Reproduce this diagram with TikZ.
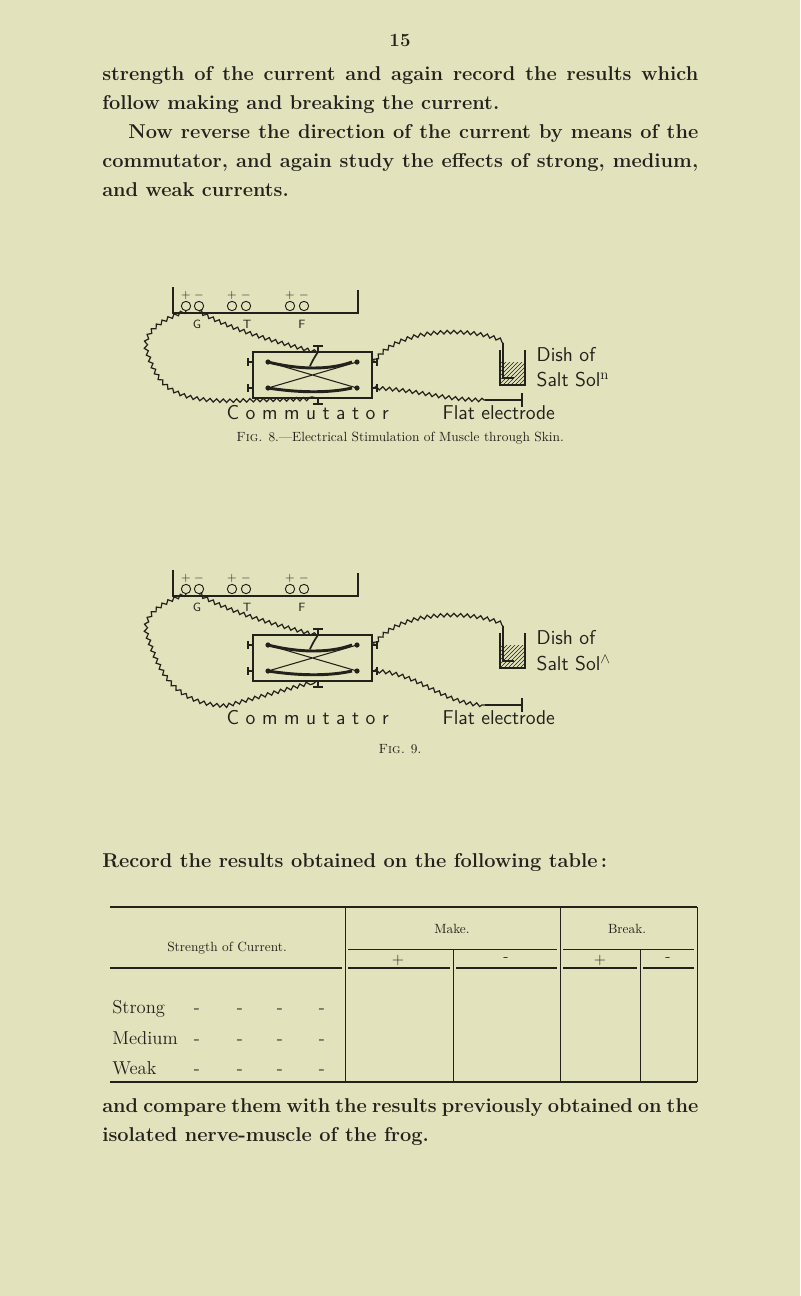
\documentclass[tikz,border=0pt]{standalone}
\usetikzlibrary{decorations.pathmorphing,patterns}
\definecolor{paper}{RGB}{226,226,188}
\definecolor{ink}{RGB}{35,33,28}
\tikzset{
 wire/.style={ink,line width=0.9pt,decorate,decoration={snake,amplitude=1.3pt,segment length=5pt}},
 hand/.style={ink,font=\sffamily\fontsize{15}{16}\selectfont},
 small/.style={ink,font=\sffamily\fontsize{9}{10}\selectfont},
 para/.style={ink,anchor=north west,text width=447pt,align=justify,inner sep=0pt,font=\fontsize{15}{21.75}\selectfont\bfseries},
}
\newcommand\myfig[3]{%
\begin{scope}[yshift=#1]
 \draw[ink,line width=0.9pt] (173,287)--(173,313)--(358,313)--(358,290);
 \foreach \x/\s in {186/+,199/-,232/+,246/-,290/+,304/-}{
   \node[ink,draw,circle,inner sep=0pt,minimum size=7pt,line width=0.7pt] (t\x) at (\x,306) {};
   \node[small] at (\x,295) {$\s$};}
 \node[small] (lg) at (197,324) {G};
 \node[small] (lt) at (247,324) {T};
 \node[small] (lf) at (302,324) {F};
 \draw[ink,line width=0.9pt] (253,352) rectangle (372,398);
 \coordinate (ctop) at (318,352); \coordinate (cbot) at (318,398);
 \coordinate (cr1) at (374,362); \coordinate (cr2) at (374,388);
 \draw[ink,line width=0.8pt] (318,352)--(318,346) (313,346)--(323,346) (318,398)--(318,404) (313,404)--(323,404)
  (253,362)--(248,362) (248,358)--(248,366) (253,388)--(248,388) (248,384)--(248,392)
  (372,362)--(377,362) (377,358)--(377,366) (372,388)--(377,388) (377,384)--(377,392);
 \draw[ink,line width=2.2pt] (268,362) .. controls (300,370) and (330,370) .. (352,362);
 \draw[ink,line width=2.2pt] (268,388) .. controls (300,393) and (330,393) .. (352,388);
 \fill[ink] (268,362) circle (2.6) (268,388) circle (2.6) (357,362) circle (2.6) (357,388) circle (2.6);
 \draw[ink,line width=0.8pt] (268,388)--(357,362) (268,362)--(357,388);
 \draw[ink,line width=1.3pt] (318,352) .. controls (314,358) .. (310,366);
 % wires
 \draw[wire] (t186.south) .. controls (160,320) and (140,335) .. (150,355) .. controls (160,385) and (175,#3) .. (230,#3) -- (cbot);
 \draw[wire] (t199.south) .. controls (230,330) and (290,345) .. (ctop);
 \draw[wire] (cr1) .. controls (400,325) and (480,330) .. (503,343);
 \draw[wire] (cr2) .. controls (420,390) and (440,#3) .. (485,#3);
 % dish
 \fill[pattern=north east lines,pattern color=ink] (500,362) rectangle (525,385);
 \draw[ink,line width=0.9pt] (500,350)--(500,385)--(525,385)--(525,350);
 \draw[ink,line width=2pt] (503,343)--(503,378)--(514,378);
 \node[hand,anchor=west] (d1) at (532,355) {Dish of};
 \node[hand,anchor=west] (d2) at (532,380) {Salt Sol#2};
 \draw[ink,line width=2.2pt] (485,#3)--(522,#3);
 \draw[ink,line width=1.2pt] (522,#3-7)--(522,#3+7);
 \node[hand,anchor=west] (lc) at (222,#3+13) {C o m m u t a t o r};
 \node[hand,anchor=west] (le) at (438,#3+13) {Flat electrode};
\end{scope}}
\begin{document}
\begin{tikzpicture}[x=0.75pt,y=-0.75pt]
\useasboundingbox (0,0) rectangle (800,1296);
\fill[paper] (0,0) rectangle (800,1296);
\node[ink,font=\fontsize{14}{14}\selectfont\bfseries] at (400,40) {15};
\node[para] (p1) at (102,66) {strength of the current and again record the results which\linebreak follow making and breaking the current.\par
\hspace*{1.3em}Now reverse the direction of the current by means of the\linebreak commutator, and again study the effects of strong, medium,\linebreak and weak currents.};
\myfig{0}{$^{\mathrm n}$}{400}
\node[ink,font=\fontsize{10}{12}\selectfont] (c8) at (400,438) {\textsc{Fig.} 8.---Electrical Stimulation of Muscle through Skin.};
\myfig{-212.25pt}{$^{\wedge}$}{422}
\node[ink,font=\fontsize{10}{12}\selectfont] (c9) at (400,749) {\textsc{Fig.} 9.};
\node[ink,anchor=west,inner sep=0pt,font=\fontsize{15}{18}\selectfont\bfseries] (rec) at (102,862) {Record the results obtained on the following table\,:};
% table
\begin{scope}[ink,line width=0.7pt]
\draw[line width=1pt] (110,907)--(697,907);
\draw[line width=1pt] (110,1082)--(697,1082);
\draw (345,907)--(345,1082) (560,907)--(560,1082) (697,907)--(697,1082);
\draw (453,950)--(453,1082) (640,950)--(640,1082);
\draw (348,949)--(557,949) (563,949)--(694,949);
\draw[line width=0.9pt] (110,968)--(342,968) (348,968)--(450,968) (456,968)--(557,968) (563,968)--(637,968) (643,968)--(694,968);
\end{scope}
\node[ink,font=\fontsize{10}{12}\selectfont] at (227,948) {Strength of Current.};
\node[ink,font=\fontsize{10}{12}\selectfont] at (452,929) {Make.};
\node[ink,font=\fontsize{10}{12}\selectfont] at (627,929) {Break.};
\node[ink,font=\large] at (398,960) {+};
\node[ink,font=\large] at (506,960) {-};
\node[ink,font=\large] at (600,960) {+};
\node[ink,font=\large] at (668,960) {-};
\foreach \t/\y in {Strong/1013,Medium/1044,Weak/1074}{
 \node[ink,anchor=base west,inner sep=0pt,font=\fontsize{14}{14}\selectfont] at (112,\y) {\t};
 \foreach \x in {197,240,280,322}{\node[ink,anchor=base,font=\fontsize{14}{14}\selectfont] at (\x,\y) {-};}}
\node[para] (p2) at (102,1098) {and compare them with the results previously obtained on the\linebreak isolated nerve-muscle of the frog.};
\end{tikzpicture}
\end{document}
